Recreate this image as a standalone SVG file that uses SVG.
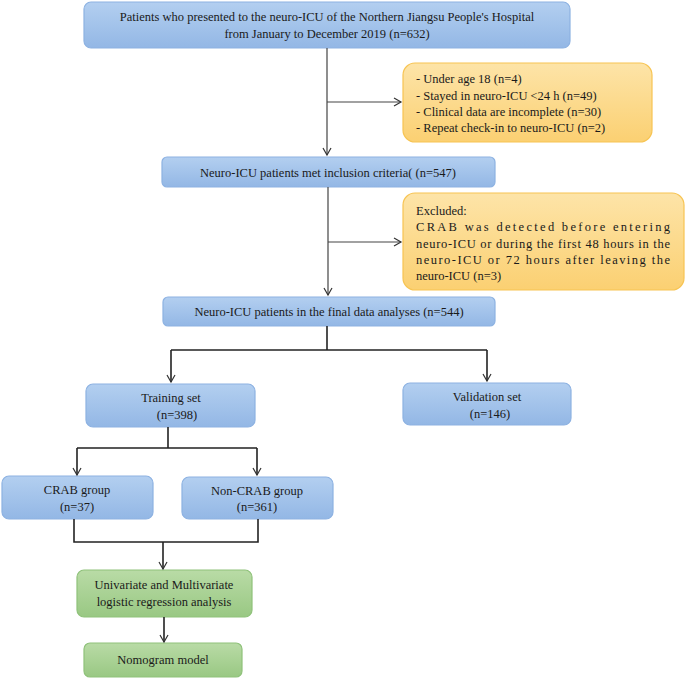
<svg xmlns="http://www.w3.org/2000/svg" width="685" height="680" viewBox="0 0 685 680">
<defs>
<linearGradient id="gb" x1="0" y1="0" x2="0" y2="1"><stop offset="0" stop-color="#b3cff0"/><stop offset="1" stop-color="#93b7e5"/></linearGradient>
<linearGradient id="go" x1="0" y1="0" x2="0" y2="1"><stop offset="0" stop-color="#fde4a8"/><stop offset="1" stop-color="#fbd072"/></linearGradient>
<linearGradient id="gg" x1="0" y1="0" x2="0" y2="1"><stop offset="0" stop-color="#b9dba6"/><stop offset="1" stop-color="#99c883"/></linearGradient>
<marker id="ar" markerWidth="10" markerHeight="10" refX="8" refY="5" orient="auto" markerUnits="userSpaceOnUse"><path d="M1,1 L8,5 L1,9" fill="none" stroke="#333" stroke-width="1.2"/></marker>
</defs>
<style>
.b{fill:url(#gb);stroke:#8db2e2;stroke-width:1.2}
.o{fill:url(#go);stroke:#f7c453;stroke-width:1.2}
.g{fill:url(#gg);stroke:#8fc27a;stroke-width:1.2}
text{font-family:"Liberation Serif","Times New Roman",serif;font-size:12.5px;fill:#1a1a1a}
.c{text-anchor:middle}
.t{stroke:#444;stroke-width:1.2;fill:none}
.k{stroke:#222;stroke-width:1.6;fill:none}
</style>
<g id="n1"><rect class="b" x="84" y="2" width="486" height="46" rx="7"/><text class="c" x="327" y="21">Patients who presented to the neuro-ICU of the Northern Jiangsu People's Hospital</text><text class="c" x="327" y="38">from January to December 2019 (n=632)</text></g>
<g id="n2"><rect class="o" x="403" y="63" width="249" height="79" rx="12"/><text x="416" y="83">- Under age 18 (n=4)</text><text x="416" y="100">- Stayed in neuro-ICU &lt;24 h (n=49)</text><text x="416" y="116">- Clinical data are incomplete (n=30)</text><text x="416" y="132">- Repeat check-in to neuro-ICU (n=2)</text></g>
<g id="n3"><rect class="b" x="162" y="157" width="333" height="30" rx="5"/><text class="c" x="328" y="177">Neuro-ICU patients met inclusion criteria( (n=547)</text></g>
<g id="n4"><rect class="o" x="403" y="193" width="281" height="97" rx="12"/><text x="416" y="215">Excluded:</text><text x="416" y="231" textLength="254" lengthAdjust="spacing">CRAB was detected before entering</text><text x="416" y="248" textLength="254" lengthAdjust="spacing">neuro-ICU or during the first 48 hours in the</text><text x="416" y="264" textLength="254" lengthAdjust="spacing">neuro-ICU or 72 hours after leaving the</text><text x="416" y="280">neuro-ICU (n=3)</text></g>
<g id="n5"><rect class="b" x="163" y="297" width="332" height="29" rx="5"/><text class="c" x="329" y="316">Neuro-ICU patients in the final data analyses (n=544)</text></g>
<g id="n6"><rect class="b" x="86" y="384" width="169" height="43" rx="7"/><text class="c" x="171" y="402">Training set</text><text class="c" x="177" y="419">(n=398)</text></g>
<g id="n7"><rect class="b" x="403" y="383" width="168" height="42" rx="7"/><text class="c" x="487" y="401">Validation set</text><text class="c" x="490" y="418">(n=146)</text></g>
<g id="n8"><rect class="b" x="2" y="476" width="151" height="43" rx="7"/><text class="c" x="77" y="494">CRAB group</text><text class="c" x="77" y="511">(n=37)</text></g>
<g id="n9"><rect class="b" x="182" y="477" width="151" height="42" rx="7"/><text class="c" x="257" y="495">Non-CRAB group</text><text class="c" x="257" y="511">(n=361)</text></g>
<g id="n10"><rect class="g" x="77" y="570" width="175" height="47" rx="7"/><text class="c" x="164" y="589">Univariate and Multivariate</text><text class="c" x="164" y="606">logistic regression analysis</text></g>
<g id="n11"><rect class="g" x="84" y="643" width="158" height="34" rx="6"/><text class="c" x="163" y="664">Nomogram model</text></g>
<g id="connectors">
<path class="t" d="M327,48 V155" marker-end="url(#ar)"/>
<path class="t" d="M327,102 H401" marker-end="url(#ar)"/>
<path class="t" d="M328,187 V295" marker-end="url(#ar)"/>
<path class="t" d="M328,242 H401" marker-end="url(#ar)"/>
<path class="k" d="M327,326 V350"/>
<path class="k" d="M171,350 H487"/>
<path class="k" d="M171,350 V382" marker-end="url(#ar)"/>
<path class="k" d="M487,350 V381" marker-end="url(#ar)"/>
<path class="k" d="M168,427 V448 M77,448 H257"/>
<path class="k" d="M77,448 V475" marker-end="url(#ar)"/>
<path class="k" d="M257,448 V475" marker-end="url(#ar)"/>
<path class="k" d="M74,519 V542 H258 V519"/>
<path class="k" d="M163,542 V569" marker-end="url(#ar)"/>
<path class="k" d="M164,617 V642" marker-end="url(#ar)"/>
</g>
</svg>
